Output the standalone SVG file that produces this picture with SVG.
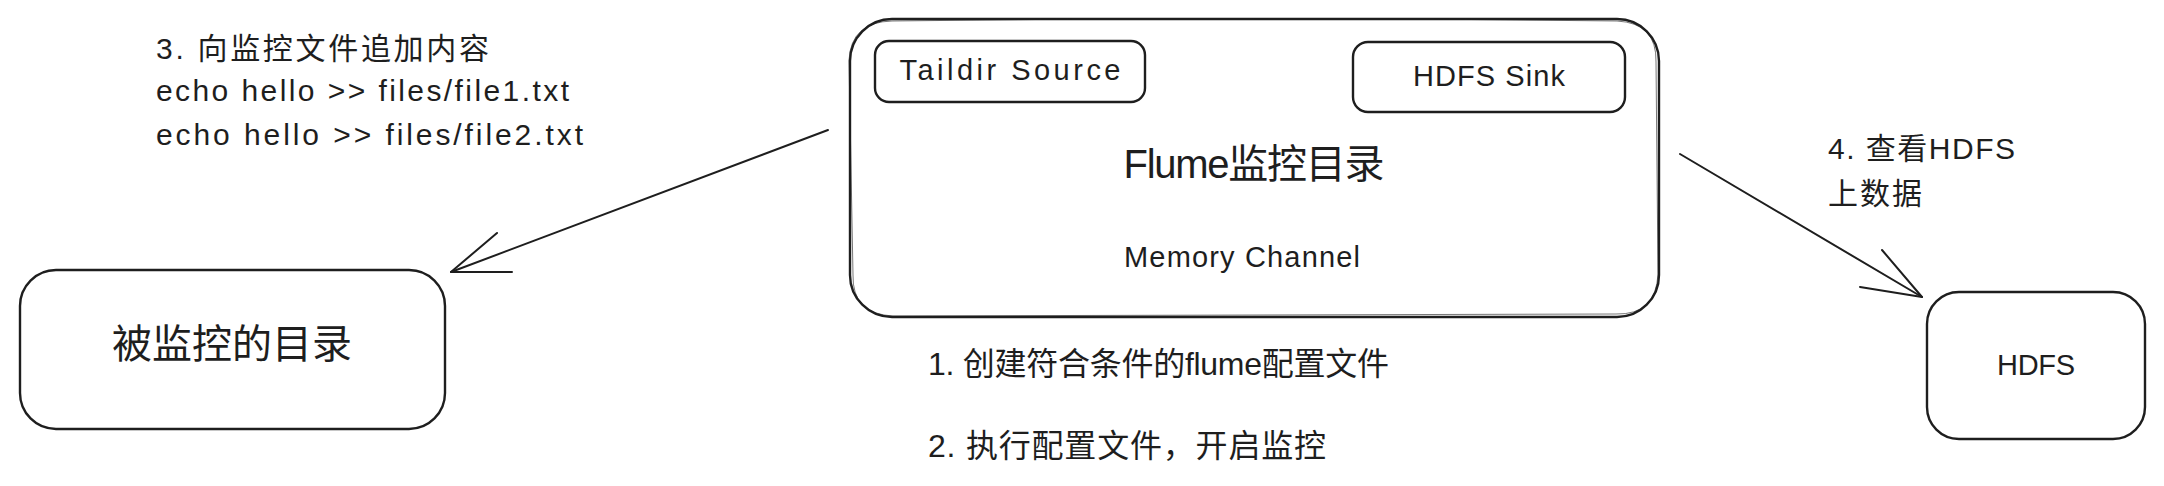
<svg xmlns="http://www.w3.org/2000/svg" width="2164" height="486" viewBox="0 0 2164 486">
<style>
.box{fill:#ffffff;stroke:#1e1e1e;stroke-width:2.4;}
.box2{fill:none;stroke:#1e1e1e;stroke-width:1;opacity:0.6;}
.t{font-family:"Liberation Sans","Noto Sans CJK SC",sans-serif;fill:#1e1e1e;}
.c{font-family:"Noto Sans CJK SC","Liberation Sans",sans-serif;fill:#1e1e1e;}
.arr{fill:none;stroke:#1e1e1e;stroke-width:2;stroke-linecap:round;stroke-linejoin:round;}
</style>
<rect width="2164" height="486" fill="#ffffff"/>
<g id="step3">
<text class="t" x="156" y="59" font-size="30" textLength="333">3. 向监控文件追加内容</text>
<text class="t" x="156" y="101" font-size="30" textLength="413">echo hello &gt;&gt; files/file1.txt</text>
<text class="t" x="156" y="145" font-size="30" textLength="427">echo hello &gt;&gt; files/file2.txt</text>
</g>
<g id="flume">
<rect class="box" x="850" y="19" width="809" height="298" rx="42" ry="42"/>
<path class="box2" d="M892 21 Q1250 16 1617 21 Q1657 23 1656 62 L1658 274 Q1656 315 1616 314 L893 316 Q852 314 853 275 L849 60 Q851 22 892 21"/>
<text class="t" x="1254" y="178" font-size="40" text-anchor="middle" textLength="261">Flume监控目录</text>
<text class="t" x="1242" y="267" font-size="29" text-anchor="middle" textLength="236">Memory Channel</text>
</g>
<g id="taildir">
<rect class="box" x="875" y="41" width="270" height="61" rx="14" ry="14"/>
<text class="t" x="1010" y="80" font-size="29" text-anchor="middle" textLength="221">Taildir Source</text>
</g>
<g id="hdfssink">
<rect class="box" x="1353" y="42" width="272" height="70" rx="15" ry="15"/>
<text class="t" x="1489" y="86" font-size="29" text-anchor="middle" textLength="152">HDFS Sink</text>
</g>
<g id="dir">
<rect class="box" x="20" y="270" width="425" height="159" rx="36" ry="36"/>
<text class="c" x="232" y="358" font-size="40" text-anchor="middle">被监控的目录</text>
</g>
<g id="hdfs">
<rect class="box" x="1927" y="292" width="218" height="147" rx="32" ry="32"/>
<text class="t" x="2036" y="375" font-size="29" text-anchor="middle" textLength="78">HDFS</text>
</g>
<g id="steps12">
<text class="t" x="928" y="375" font-size="32" textLength="461">1. 创建符合条件的flume配置文件</text>
<text class="t" x="928" y="457" font-size="32" textLength="398">2. 执行配置文件，开启监控</text>
</g>
<g id="step4">
<text class="t" x="1828" y="159" font-size="30" textLength="187">4. 查看HDFS</text>
<text class="c" x="1828" y="204" font-size="30" textLength="94">上数据</text>
</g>
<g id="connectors">
<path class="arr" d="M828 130 L451 272"/>
<path class="arr" d="M497 233 L451 272 L512 272"/>
<path class="arr" d="M1680 154 L1922 297"/>
<path class="arr" d="M1882 250 L1922 297 L1860 287"/>
</g>
</svg>
